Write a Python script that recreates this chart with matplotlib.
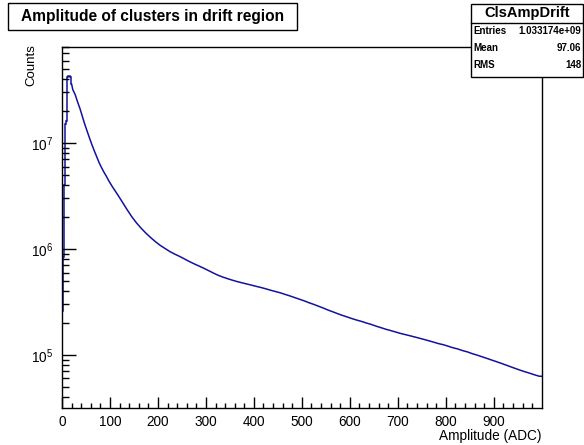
import matplotlib.pyplot as plt
import numpy as np
from matplotlib.patches import Rectangle
from matplotlib.ticker import LogLocator, NullFormatter, FixedLocator

plt.rcParams['font.family'] = ['Liberation Sans', 'DejaVu Sans']
plt.rcParams['mathtext.default'] = 'regular'

# Histogram contents (counts per bin)
# 0-20 ADC, bins of 2
counts_peak = [2.6e5, 8.4e5, 4.0e6, 1.5e7, 1.6e7, 4.2e7, 4.25e7, 4.25e7, 4.2e7, 3.6e7]
# 20-100 ADC, bins of 5
counts_fall = [3.19e7, 2.86e7, 2.44e7, 2.11e7, 1.78e7, 1.50e7, 1.29e7, 1.11e7,
               9.6e6, 8.4e6, 7.4e6, 6.5e6, 5.85e6, 5.3e6, 4.85e6, 4.4e6]
# 100-1000 ADC, bins of 10
counts_tail = [3.87e6, 3.31e6, 2.81e6, 2.38e6, 2.03e6, 1.77e6, 1.57e6, 1.41e6, 1.28e6, 1.17e6,
               1.08e6, 1.01e6, 9.45e5, 8.95e5, 8.52e5, 8.07e5, 7.64e5, 7.26e5, 6.93e5, 6.60e5,
               6.27e5, 5.95e5, 5.66e5, 5.44e5, 5.25e5, 5.08e5, 4.93e5, 4.80e5, 4.68e5, 4.56e5,
               4.44e5, 4.33e5, 4.21e5, 4.08e5, 3.97e5, 3.86e5, 3.73e5, 3.61e5, 3.48e5, 3.36e5,
               3.24e5, 3.11e5, 3.00e5, 2.88e5, 2.77e5, 2.65e5, 2.55e5, 2.45e5, 2.36e5, 2.28e5,
               2.20e5, 2.13e5, 2.07e5, 2.00e5, 1.94e5, 1.87e5, 1.81e5, 1.75e5, 1.70e5, 1.65e5,
               1.60e5, 1.56e5, 1.52e5, 1.48e5, 1.44e5, 1.40e5, 1.36e5, 1.32e5, 1.28e5, 1.25e5,
               1.21e5, 1.17e5, 1.14e5, 1.10e5, 1.07e5, 1.03e5, 9.98e4, 9.64e4, 9.31e4, 8.98e4,
               8.67e4, 8.36e4, 8.05e4, 7.75e4, 7.46e4, 7.19e4, 6.95e4, 6.73e4, 6.50e4, 6.30e4]

edges_peak = np.arange(0, 21, 2)
edges_rest = np.concatenate([np.arange(20, 100, 5), np.arange(100, 1001, 10)])
counts_rest = np.array(counts_fall + counts_tail)

x_major = list(range(0, 1000, 100))
x_labels = [str(v) for v in x_major]

hist_name = "ClsAmpDrift"
stat_names = ["Entries", "Mean", "RMS"]
stat_values = ["1.033174e+09", "97.06", "148"]

W, H = 584, 445
fig = plt.figure(figsize=(W / 100, H / 100), dpi=100)
ax = fig.add_axes([62 / W, 1 - 408.3 / H, (541.7 - 62) / W, (408.3 - 47.3) / H])

line_col = '#12129e'
# peak region as steps, falling part through bin centres
ax.stairs(counts_peak, edges_peak, baseline=None, color=line_col, lw=1.1)
centres = 0.5 * (edges_rest[:-1] + edges_rest[1:])
xs = np.concatenate([[edges_peak[-1]], centres, [edges_rest[-1]]])
ys = np.concatenate([[counts_peak[-1]], counts_rest, [counts_rest[-1]]])
ax.plot(xs, ys, color=line_col, lw=1.1)

ax.set_yscale('log')
ax.set_xlim(0, 1000)
ax.set_ylim(3.14e4, 8.0e7)

ax.xaxis.set_major_locator(FixedLocator(x_major))
ax.set_xticklabels(x_labels)
ax.xaxis.set_minor_locator(FixedLocator(list(range(0, 1000, 20))))
ax.yaxis.set_major_locator(LogLocator(base=10))
ax.yaxis.set_minor_locator(LogLocator(base=10, subs=np.arange(2, 10)))
ax.yaxis.set_minor_formatter(NullFormatter())

ax.tick_params(axis='both', which='both', direction='in', top=False, right=False,
               width=1, labelsize=9.8, colors='black')
ax.tick_params(axis='x', which='major', length=7.8, pad=5)
ax.tick_params(axis='x', which='minor', length=3.9)
ax.tick_params(axis='y', which='major', length=10.4, pad=6)
ax.tick_params(axis='y', which='minor', length=5.2)
for s in ax.spines.values():
    s.set_linewidth(1)

ax.set_xlabel('Amplitude (ADC)', fontsize=9.8, loc='right')
ax.xaxis.set_label_coords(1.0, -0.058)
ax.set_ylabel('Counts', fontsize=9.5, loc='top')
ax.yaxis.set_label_coords(-0.052, 1.01)

# title box
fig.add_artist(Rectangle((8.3 / W, 1 - 30 / H), (297 - 8.3) / W, 26.7 / H,
                         transform=fig.transFigure, facecolor='white',
                         edgecolor='black', lw=1))
fig.text((8.3 + 297) / 2 / W, 1 - 16.8 / H, 'Amplitude of clusters in drift region',
         fontsize=11.2, fontweight='bold', ha='center', va='center')

# stats box
bx0, bx1, by0, by1 = 470.7, 583, 4, 77
fig.add_artist(Rectangle((bx0 / W, 1 - by1 / H), (bx1 - bx0) / W, (by1 - by0) / H,
                         transform=fig.transFigure, facecolor='white',
                         edgecolor='black', lw=1))
fig.add_artist(plt.Line2D([bx0 / W, bx1 / W], [1 - 22.7 / H, 1 - 22.7 / H],
                          transform=fig.transFigure, color='black', lw=1))
fig.text((bx0 + bx1) / 2 / W, 1 - 13.3 / H, hist_name, fontsize=10.5,
         fontweight='bold', ha='center', va='center')
for i, (n, v) in enumerate(zip(stat_names, stat_values)):
    yy = 1 - (30.5 + i * 17.5) / H
    fig.text(473.5 / W, yy, n, fontsize=7, fontweight='bold', ha='left', va='center')
    fig.text(581.5 / W, yy, v, fontsize=7, fontweight='bold', ha='right', va='center')

fig.savefig('out.png', dpi=100)
